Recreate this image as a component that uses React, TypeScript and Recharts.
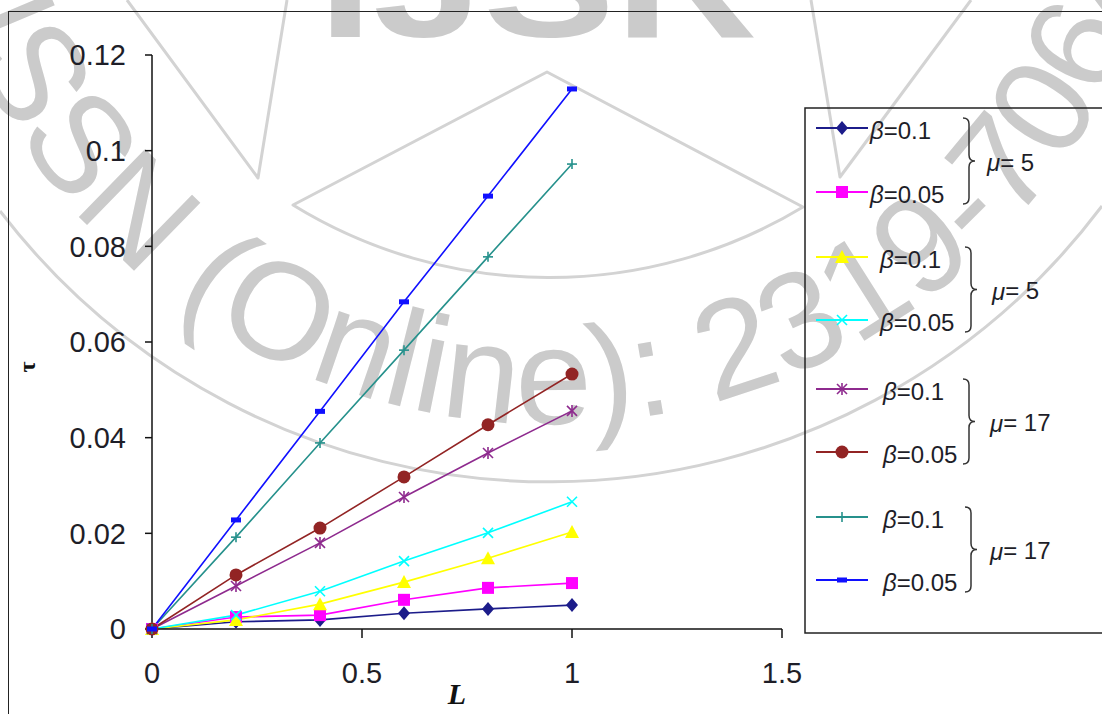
import React from 'react';
import { LineChart, Line, XAxis, YAxis, Legend } from 'recharts';

// ---- data ----
const L_VALUES = [0, 0.2, 0.4, 0.6, 0.8, 1];
const tauB01Mu5a = [0, 0.0015, 0.0019, 0.0033, 0.0042, 0.005];
const tauB005Mu5a = [0, 0.0025, 0.0029, 0.0061, 0.0086, 0.0096];
const tauB01Mu5b = [0, 0.0019, 0.0052, 0.0098, 0.0148, 0.0203];
const tauB005Mu5b = [0, 0.0029, 0.0079, 0.0142, 0.0201, 0.0266];
const tauB01Mu17a = [0, 0.009, 0.018, 0.0276, 0.0368, 0.0456];
const tauB005Mu17a = [0, 0.0113, 0.0211, 0.0318, 0.0427, 0.0533];
const tauB01Mu17b = [0, 0.0192, 0.0389, 0.0583, 0.0778, 0.0972];
const tauB005Mu17b = [0, 0.0228, 0.0455, 0.0684, 0.0905, 0.1129];
const X_TICKS = [0, 0.5, 1, 1.5];
const Y_TICKS = [0, 0.02, 0.04, 0.06, 0.08, 0.1, 0.12];
const BETA_LABELS = ['0.1', '0.05', '0.1', '0.05', '0.1', '0.05', '0.1', '0.05'];
const MU_LABELS = ['5', '5', '17', '17'];

type Marker = 'diamond' | 'square' | 'triangle' | 'x' | 'star' | 'circle' | 'plus' | 'dash';

const SERIES: { key: string; values: number[]; color: string; marker: Marker }[] = [
  { key: 's1', values: tauB01Mu5a, color: '#1c1c8a', marker: 'diamond' },
  { key: 's2', values: tauB005Mu5a, color: '#ff00ff', marker: 'square' },
  { key: 's3', values: tauB01Mu5b, color: '#ffff00', marker: 'triangle' },
  { key: 's4', values: tauB005Mu5b, color: '#00ffff', marker: 'x' },
  { key: 's5', values: tauB01Mu17a, color: '#8e2a8e', marker: 'star' },
  { key: 's6', values: tauB005Mu17a, color: '#922424', marker: 'circle' },
  { key: 's7', values: tauB01Mu17b, color: '#26918c', marker: 'plus' },
  { key: 's8', values: tauB005Mu17b, color: '#1010ff', marker: 'dash' },
];

const data = L_VALUES.map((l, i) => {
  const row: Record<string, number> = { L: l };
  SERIES.forEach((s) => {
    row[s.key] = s.values[i];
  });
  return row;
});

const FONT = '"Liberation Sans", Arial, sans-serif';
const TEXT = '#1e1e28';

function drawMarker(kind: Marker, cx: number, cy: number, color: string, key: string) {
  switch (kind) {
    case 'diamond':
      return <polygon key={key} points={`${cx},${cy - 7} ${cx + 6},${cy} ${cx},${cy + 7} ${cx - 6},${cy}`} fill={color} />;
    case 'square':
      return <rect key={key} x={cx - 6} y={cy - 6} width={12} height={12} fill={color} />;
    case 'triangle':
      return <polygon key={key} points={`${cx},${cy - 7} ${cx + 7},${cy + 6} ${cx - 7},${cy + 6}`} fill={color} />;
    case 'x':
      return (
        <g key={key} stroke={color} strokeWidth={1.6}>
          <line x1={cx - 5} y1={cy - 5} x2={cx + 5} y2={cy + 5} />
          <line x1={cx - 5} y1={cy + 5} x2={cx + 5} y2={cy - 5} />
        </g>
      );
    case 'star':
      return (
        <g key={key} stroke={color} strokeWidth={1.6}>
          <line x1={cx - 5} y1={cy - 5} x2={cx + 5} y2={cy + 5} />
          <line x1={cx - 5} y1={cy + 5} x2={cx + 5} y2={cy - 5} />
          <line x1={cx} y1={cy - 6} x2={cx} y2={cy + 6} />
        </g>
      );
    case 'circle':
      return <circle key={key} cx={cx} cy={cy} r={6.5} fill={color} />;
    case 'plus':
      return (
        <g key={key} stroke={color} strokeWidth={1.6}>
          <line x1={cx - 5} y1={cy} x2={cx + 5} y2={cy} />
          <line x1={cx} y1={cy - 5} x2={cx} y2={cy + 5} />
        </g>
      );
    case 'dash':
    default:
      return <rect key={key} x={cx - 5} y={cy - 2.5} width={10} height={5} fill={color} />;
  }
}

// legend layout
const LEG_LEFT = 805;
const LEG_TOP = 108;
const ROW_Y = [128, 192, 257, 320, 389, 452, 517, 580];
const TEXT_X = [870, 870, 880, 880, 883, 883, 883, 883];
const BRACE_X = [963, 965, 963, 965];
const MU_X = [987, 992, 990, 990];

function brace(x0: number, y1: number, y2: number, w: number, key: string) {
  const ym = (y1 + y2) / 2;
  const xm = x0 + w * 0.5;
  const r = 6;
  const d = `M${x0},${y1} Q${xm},${y1} ${xm},${y1 + r} L${xm},${ym - r} Q${xm},${ym} ${x0 + w},${ym} Q${xm},${ym} ${xm},${ym + r} L${xm},${y2 - r} Q${xm},${y2} ${x0},${y2}`;
  return <path key={key} d={d} fill="none" stroke="#333" strokeWidth={1.5} />;
}

function LegendBox() {
  return (
    <svg width={400} height={540} style={{ position: 'absolute', left: 0, top: 0, overflow: 'visible' }}>
      <g transform={`translate(${-LEG_LEFT},${-LEG_TOP})`}>
        <rect x={LEG_LEFT} y={LEG_TOP} width={400} height={525} fill="none" stroke="#222" strokeWidth={1.5} />
        {SERIES.map((s, i) => (
          <g key={s.key}>
            <line x1={816} y1={ROW_Y[i]} x2={868} y2={ROW_Y[i]} stroke={s.color} strokeWidth={1.8} />
            {drawMarker(s.marker, 842, ROW_Y[i], s.color, `lm${i}`)}
            <text x={TEXT_X[i]} y={ROW_Y[i] + 2} dominantBaseline="central" fontFamily={FONT} fontSize={24} fill={TEXT}>
              <tspan fontStyle="italic">β</tspan>=
              {BETA_LABELS[i]}
            </text>
          </g>
        ))}
        {MU_LABELS.map((m, g) => {
          const y1 = ROW_Y[g * 2] - 10;
          const y2 = ROW_Y[g * 2 + 1] + 12;
          return (
            <g key={`mu${g}`}>
              {brace(BRACE_X[g], y1, y2, 12, `br${g}`)}
              <text x={MU_X[g]} y={(y1 + y2) / 2 + 1} dominantBaseline="central" fontFamily={FONT} fontSize={24} fill={TEXT}>
                <tspan fontStyle="italic">μ</tspan>= {m}
              </text>
            </g>
          );
        })}
      </g>
    </svg>
  );
}

function Watermark() {
  const cx = 549;
  const cy = -210;
  const R = 634;
  const a1 = (172 * Math.PI) / 180;
  const a2 = (5 * Math.PI) / 180;
  const p1 = [cx + R * Math.cos(a1), cy + R * Math.sin(a1)];
  const p2 = [cx + R * Math.cos(a2), cy + R * Math.sin(a2)];
  const g = '#cbcbcb';
  return (
    <svg width={1102} height={714} style={{ position: 'absolute', left: 0, top: 0 }}>
      <defs>
        <path id="wm-arc" d={`M${p1[0]},${p1[1]} A${R},${R} 0 0 0 ${p2[0]},${p2[1]}`} />
      </defs>
      <text fontFamily={FONT} fontSize={138} fill={g}>
        <textPath href="#wm-arc" startOffset={145}>
          ISSN (Online): 2319-7064
        </textPath>
      </text>
      <text x={318} y={37} fontFamily={FONT} fontWeight="bold" fontSize={150} fill={g} textLength={440} lengthAdjust="spacingAndGlyphs">
        IJSR
      </text>
      <g fill="none" stroke="#d3d3d3" strokeWidth={3} strokeLinejoin="round">
        <path d="M293,205 L547,72 L803,207 A490,490 0 0 1 293,205 Z" />
        <path d="M0,211 A692,692 0 0 0 1102,206" />
        <path d="M127,0 L258,178 L287,0" />
        <path d="M811,0 L840,177 L971,0" />
      </g>
    </svg>
  );
}

export default function App() {
  return (
    <div style={{ position: 'absolute', left: 0, top: 0, width: 1102, height: 714, background: '#fff', overflow: 'hidden' }}>
      <Watermark />
      <div style={{ position: 'absolute', left: 8, top: 11, width: 1200, height: 800, border: '1.5px solid #222' }} />
      <div style={{ position: 'absolute', left: 0, top: 0 }}>
        <LineChart width={1102} height={714} data={data} margin={{ top: 55, right: 320, bottom: 55, left: 92 }}>
          <XAxis
            dataKey="L"
            type="number"
            domain={[0, 1.5]}
            ticks={X_TICKS}
            height={30}
            stroke="#111"
            strokeWidth={1.5}
            tickSize={9}
            tickMargin={24}
            tick={{ fontSize: 29, fontFamily: FONT, fill: TEXT }}
            label={(props: any) => {
              const vb = props.viewBox || {};
              return (
                <text x={vb.x + vb.width / 2 - 10} y={vb.y + 75} textAnchor="middle" fontFamily='"Liberation Serif", "Times New Roman", serif' fontWeight="bold" fontStyle="italic" fontSize={30} fill="#111">
                  L
                </text>
              );
            }}
          />
          <YAxis
            type="number"
            domain={[0, 0.12]}
            ticks={Y_TICKS}
            width={60}
            stroke="#111"
            strokeWidth={1.5}
            tickSize={7}
            tickMargin={19}
            tick={{ fontSize: 29, fontFamily: FONT, fill: TEXT }}
            label={(props: any) => {
              const vb = props.viewBox || {};
              const x = vb.x - 65;
              const y = vb.y + vb.height / 2 + 25;
              return (
                <text x={x} y={y} transform={`rotate(-90 ${x} ${y})`} textAnchor="middle" dominantBaseline="central" fontFamily='"Liberation Serif", "Times New Roman", serif' fontWeight="bold" fontSize={24} fill="#111">
                  τ
                </text>
              );
            }}
          />
          <Legend
            layout="horizontal"
            verticalAlign="middle"
            align="center"
            content={() => <LegendBox />}
            wrapperStyle={{ position: 'absolute', left: LEG_LEFT, top: LEG_TOP, width: 400, height: 530, margin: 0 }}
          />
          {SERIES.map((s) => (
            <Line
              key={s.key}
              type="linear"
              dataKey={s.key}
              stroke={s.color}
              strokeWidth={1.6}
              isAnimationActive={false}
              dot={(p: any) => drawMarker(s.marker, p.cx, p.cy, s.color, `${s.key}-${p.index}`)}
              activeDot={false}
            />
          ))}
        </LineChart>
      </div>
    </div>
  );
}
